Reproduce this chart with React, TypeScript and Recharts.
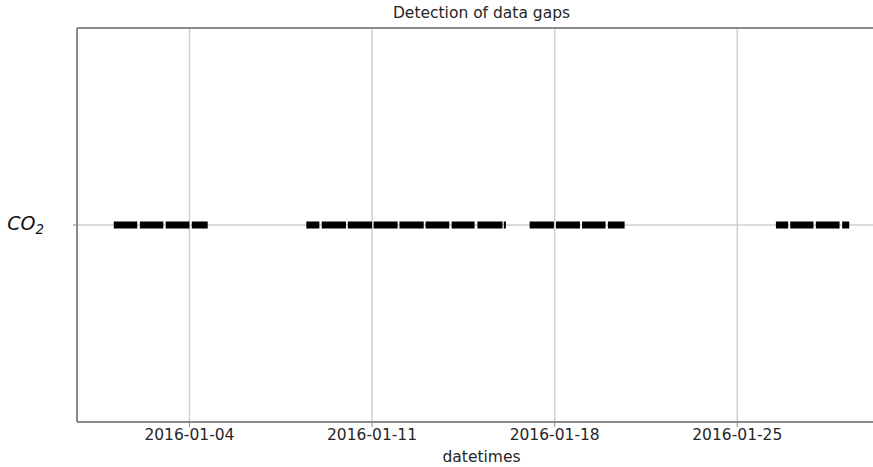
import { CartesianGrid, ComposedChart, Line, ReferenceLine, XAxis, YAxis } from 'recharts'

// day-of-month (January 2016) where each recorded stretch starts / ends
const segStart = [1.10, 2.10, 3.09, 4.09, 8.48, 9.07, 10.07, 11.06, 12.05, 13.05, 14.05, 15.04, 16.05, 17.04, 18.05, 19.05, 20.04, 26.48, 27.03, 28.01, 29.02]
const segEnd = [2.00, 3.00, 4.00, 4.70, 8.98, 10.00, 11.00, 11.98, 12.98, 13.96, 14.93, 16.00, 16.13, 17.97, 18.97, 19.95, 20.68, 26.95, 27.92, 28.92, 29.29]

const xTicks = [4, 11, 18, 25]
const xTickLabels = ['2016-01-04', '2016-01-11', '2016-01-18', '2016-01-25']
const yTicks = [0]
const yTickLabels = ['CO2']
const xDomain = [-0.31, 30.70]

const font = '"DejaVu Sans", sans-serif'

const data: { t: number; v: number | null }[] = []
segStart.forEach((s, i) => {
  data.push({ t: s, v: 0 })
  data.push({ t: segEnd[i], v: 0 })
  const next = segStart[i + 1] ?? segEnd[i] + 0.05
  data.push({ t: (segEnd[i] + next) / 2, v: null })
})

function XTick(props: any) {
  const { x, y, payload } = props
  const label = xTickLabels[xTicks.indexOf(payload.value)] ?? ''
  return (
    <text x={x} y={y} dy="0.71em" textAnchor="middle" fontFamily={font} fontSize={15.5} fill="#262626">
      {label}
    </text>
  )
}

function YTick(props: any) {
  const { x, y, payload } = props
  const label = yTickLabels[yTicks.indexOf(payload.value)] ?? ''
  return (
    <text x={x - 27} y={y + 5} textAnchor="end" fontFamily={font} fontStyle="italic" fontSize={19} fill="#111">
      {label.slice(0, -1)}
      <tspan fontSize={13.5} dy={4}>{label.slice(-1)}</tspan>
    </text>
  )
}

export default function App() {
  return (
    <div style={{ position: 'absolute', left: 0, top: 0, width: 873, height: 467, overflow: 'hidden', background: '#fff' }}>
      <div style={{ position: 'absolute', left: 77, width: 809, top: 4, textAlign: 'center', fontFamily: font, fontSize: 15.5, color: '#262626' }}>
        Detection of data gaps
      </div>
      <ComposedChart width={886} height={467} data={data} margin={{ top: 28, right: 0, left: 0, bottom: 0 }}>
        <CartesianGrid stroke="#cfcfcf" strokeWidth={1.5} />
        <XAxis
          dataKey="t" type="number" domain={xDomain} ticks={xTicks} allowDataOverflow
          height={45} tickSize={5} tickMargin={2} tick={<XTick />}
          axisLine={{ stroke: '#8a8a8a', strokeWidth: 2 }} tickLine={{ stroke: '#8a8a8a' }}
          label={{ value: 'datetimes', position: 'insideBottom', offset: 5, fontFamily: font, fontSize: 15.5, fill: '#262626' }}
        />
        <YAxis
          type="number" domain={[-1, 1]} ticks={yTicks} width={77} tickSize={4} tick={<YTick />}
          axisLine={{ stroke: '#8a8a8a', strokeWidth: 2 }} tickLine={{ stroke: '#8a8a8a' }}
        />
        <ReferenceLine y={1} stroke="#8a8a8a" strokeWidth={2} />
        <Line
          dataKey="v" type="linear" stroke="#000" strokeWidth={7} strokeLinecap="butt"
          dot={false} activeDot={false} connectNulls={false} isAnimationActive={false}
        />
      </ComposedChart>
    </div>
  )
}
